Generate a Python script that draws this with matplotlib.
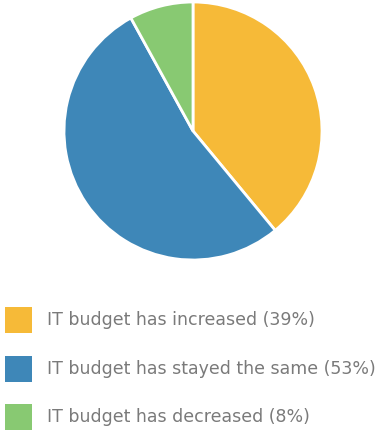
import matplotlib.pyplot as plt
from matplotlib.patches import Rectangle

labels = ["IT budget has increased (39%)",
          "IT budget has stayed the same (53%)",
          "IT budget has decreased (8%)"]
shares = [39, 53, 8]
colors = ["#F6BA38", "#3E87B8", "#88C972"]

W, H = 380, 433
fig = plt.figure(figsize=(W / 100, H / 100), dpi=100)

# pie: centre (193, 131) px, radius 129 px
cx, cy, r = 193, 131, 129
ax = fig.add_axes([(cx - r) / W, 1 - (cy + r) / H, 2 * r / W, 2 * r / H])
ax.pie(shares, colors=colors, startangle=90, counterclock=False,
       radius=1, wedgeprops=dict(edgecolor="white", linewidth=2))
ax.set_xlim(-1, 1)
ax.set_ylim(-1, 1)
ax.set_aspect("equal")
ax.axis("off")

# legend rows
row_y = [320, 369, 417]
for lab, col, y in zip(labels, colors, row_y):
    fig.patches.append(Rectangle((5 / W, 1 - (y + 13) / H), 27 / W, 26 / H,
                                 transform=fig.transFigure, facecolor=col,
                                 edgecolor="none"))
    fig.text(47 / W, 1 - y / H, lab, fontsize=12.5, color="#7a7a7a",
             va="center", ha="left", family="DejaVu Sans")

fig.savefig("out.png", dpi=100)
